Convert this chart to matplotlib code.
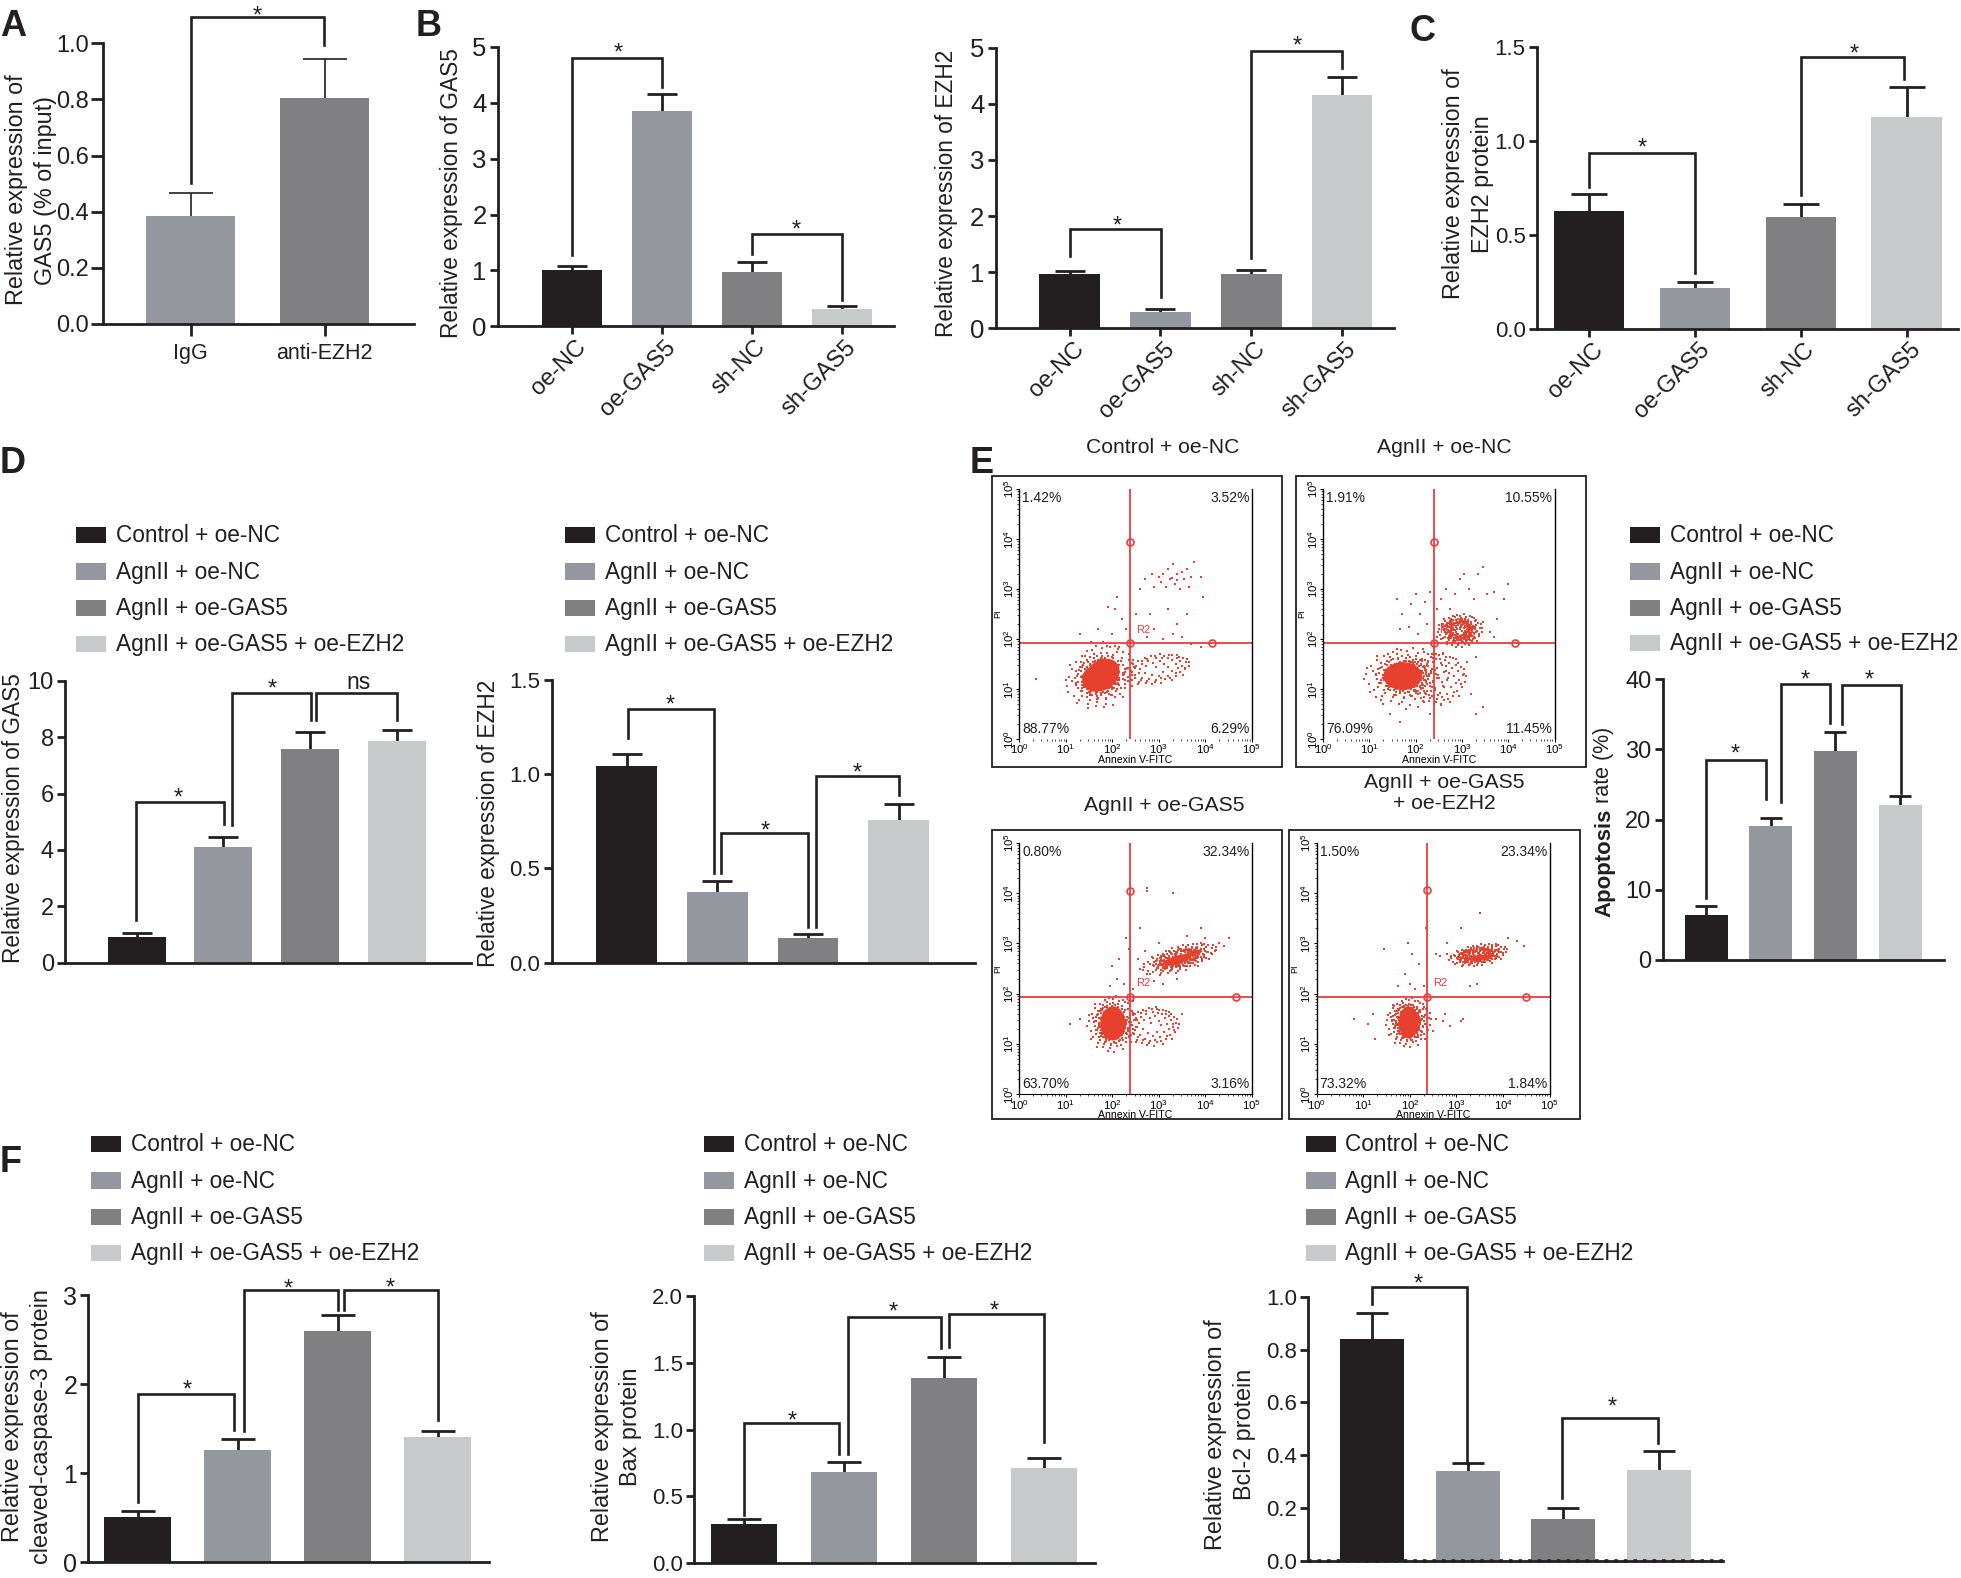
import matplotlib
matplotlib.use("Agg")
import matplotlib.pyplot as plt
import numpy as np
from matplotlib.patches import Ellipse, Rectangle
from matplotlib.transforms import ScaledTranslation

plt.rcParams['font.family'] = ['Liberation Sans', 'DejaVu Sans']
plt.rcParams['mathtext.fontset'] = 'custom'
plt.rcParams['mathtext.rm'] = 'Liberation Sans'

# layout numbers are in the 1568 wide preview of the figure
W = 1568.0
H = 1578 * W / 1961
BLACK, GRAY, DARK, LIGHT = '#231f20', '#95979e', '#808082', '#c8c9cb'
RED = '#e8402f'
LINE_RED = '#ee3b3b'
LW = 2.0
COLORS = [BLACK, GRAY, DARK, LIGHT]

groups_bc = ['oe-NC', 'oe-GAS5', 'sh-NC', 'sh-GAS5']
groups_a = ['IgG', 'anti-EZH2']
legend_names = ['Control + oe-NC', 'AgnII + oe-NC', 'AgnII + oe-GAS5', 'AgnII + oe-GAS5 + oe-EZH2']

a_vals = [0.385, 0.805]
a_tops = [0.465, 0.945]
b1_vals = [1.0, 3.85, 0.98, 0.31]
b1_tops = [1.08, 4.15, 1.15, 0.36]
b2_vals = [0.967, 0.285, 0.96, 4.15]
b2_tops = [1.03, 0.338, 1.04, 4.47]
c_vals = [0.629, 0.216, 0.595, 1.125]
c_tops = [0.717, 0.251, 0.664, 1.288]
d1_vals = [0.92, 4.11, 7.58, 7.86]
d1_tops = [1.06, 4.47, 8.17, 8.25]
d2_vals = [1.044, 0.375, 0.129, 0.755]
d2_tops = [1.106, 0.433, 0.15, 0.84]
e_vals = [6.4, 19.1, 29.7, 22.0]
e_tops = [7.69, 20.2, 32.5, 23.3]
f1_vals = [0.512, 1.257, 2.60, 1.406]
f1_tops = [0.576, 1.39, 2.78, 1.478]
f2_vals = [0.292, 0.681, 1.39, 0.711]
f2_tops = [0.329, 0.761, 1.544, 0.791]
f3_vals = [0.84, 0.34, 0.16, 0.345]
f3_tops = [0.94, 0.37, 0.20, 0.415]

# flow cytometry quadrants: upper left, upper right, lower left, lower right
e_titles = ['Control + oe-NC', 'AgnII + oe-NC', 'AgnII + oe-GAS5', 'AgnII + oe-GAS5\n+ oe-EZH2']
p1_pct = ['1.42%', '3.52%', '88.77%', '6.29%']
p2_pct = ['1.91%', '10.55%', '76.09%', '11.45%']
p3_pct = ['0.80%', '32.34%', '63.70%', '3.16%']
p4_pct = ['1.50%', '23.34%', '73.32%', '1.84%']

# solid part of the clouds, read by eye: x, y, half width, half height, angle (log10 units)
p1_core = [(1.78, 1.28, 0.40, 0.30, 30), (1.6, 1.2, 0.25, 0.25, 0)]
p2_core = [(1.72, 1.26, 0.42, 0.28, 0)]
p3_core = [(2.01, 1.41, 0.27, 0.34, 0), (3.4, 2.68, 0.32, 0.08, 14), (3.75, 2.82, 0.17, 0.05, 14)]
p4_core = [(1.97, 1.43, 0.22, 0.32, 0), (3.45, 2.72, 0.18, 0.05, 8)]

# outline of the loose fringes: x, y, half width, half height, angle, dense or not
p1_fringe = [(1.75, 1.25, 0.8, 0.65, 20, True), (2.95, 1.4, 0.75, 0.3, 8, False)]
p2_fringe = [(1.8, 1.25, 0.95, 0.6, 0, True), (2.5, 1.2, 0.6, 0.55, 0, False), (2.96, 2.17, 0.5, 0.35, 0, True)]
p3_fringe = [(2.0, 1.4, 0.55, 0.58, 0, True), (3.45, 2.7, 0.85, 0.27, 14, True), (2.85, 1.35, 0.6, 0.4, 0, False)]
p4_fringe = [(1.97, 1.43, 0.5, 0.52, 0, True), (3.47, 2.77, 0.65, 0.22, 8, True)]

# hand typed stipple for those fringes. The individual events of the cytometry
# plots can't be read one by one, so this is a texture and not measured data.
stipple = [(-0.92, 0.1), (-0.85, -0.25), (-0.8, 0.35), (-0.74, -0.45), (-0.7, 0.05), (-0.66, 0.55), (-0.62, -0.2),
           (-0.6, 0.3), (-0.55, -0.65), (-0.52, -0.05), (-0.5, 0.7), (-0.46, 0.18), (-0.43, -0.42), (-0.4, 0.48),
           (-0.36, -0.8), (-0.33, -0.15), (-0.3, 0.82), (-0.28, 0.3), (-0.24, -0.6), (-0.2, 0.62), (-0.18, -0.92),
           (-0.15, -0.33), (-0.12, 0.9), (-0.08, 0.42), (-0.05, -0.72), (-0.02, 0.15), (0.03, 0.72), (0.05, -0.5),
           (0.08, -0.95), (0.12, 0.5), (0.15, 0.95), (0.17, -0.28), (0.2, -0.75), (0.24, 0.28), (0.27, 0.8),
           (0.3, -0.55), (0.33, 0.05), (0.36, 0.6), (0.4, -0.85), (0.43, -0.3), (0.46, 0.42), (0.5, 0.75),
           (0.52, -0.62), (0.56, 0.12), (0.6, -0.15), (0.63, 0.52), (0.66, -0.45), (0.7, 0.3), (0.74, -0.05),
           (0.78, 0.45), (0.82, -0.3), (0.86, 0.15), (0.93, -0.1), (-0.97, -0.08), (-0.9, 0.3), (-0.82, -0.5),
           (-0.68, 0.68), (-0.58, -0.78), (0.62, 0.72), (0.72, -0.62), (0.9, 0.35), (0.96, 0.12), (-0.76, 0.2),
           (-0.64, -0.36), (-0.57, 0.44), (-0.48, -0.55), (-0.38, 0.66), (-0.31, -0.68), (-0.22, 0.76), (-0.1, -0.84),
           (0.01, 0.86), (0.1, -0.66), (0.21, 0.68), (0.34, -0.72), (0.41, 0.82), (0.55, -0.48), (0.68, 0.6), (0.8, -0.18)]

# stray dots (log10 x, log10 y)
p1_dots = [(2.6, 3.0), (2.7, 3.2), (2.85, 3.3), (2.9, 3.05), (3.0, 3.25), (3.05, 3.15), (3.1, 3.3), (3.15, 3.05),
           (3.2, 3.4), (3.25, 3.2), (3.3, 3.5), (3.35, 3.1), (3.4, 3.3), (3.45, 3.0), (3.5, 3.35), (3.55, 3.2),
           (3.6, 3.4), (3.7, 3.25), (3.75, 3.55), (3.9, 3.25), (3.65, 3.05), (3.95, 2.85), (3.28, 3.22), (3.38, 3.18),
           (2.1, 2.85), (2.05, 2.6), (1.9, 2.65), (2.2, 2.4), (2.3, 2.2), (2.0, 2.1), (1.7, 2.2), (2.5, 2.5),
           (2.8, 2.5), (3.2, 2.6), (3.4, 2.3), (3.6, 2.5), (3.3, 2.1), (2.9, 2.2), (3.1, 2.0), (3.5, 2.05),
           (3.7, 1.9), (3.9, 1.85), (2.75, 2.05), (1.55, 1.95), (1.3, 2.1), (0.35, 1.2), (1.8, 1.95), (2.15, 1.85)]
p2_dots = [(1.6, 2.8), (1.7, 2.5), (1.9, 2.7), (2.0, 2.9), (2.1, 2.5), (2.2, 2.75), (2.3, 2.95), (2.45, 2.6),
           (2.55, 2.8), (2.65, 3.0), (2.75, 2.6), (2.85, 2.9), (2.95, 3.2), (3.05, 3.3), (3.15, 3.0), (3.25, 2.8),
           (3.35, 3.3), (3.45, 3.45), (3.55, 2.9), (3.7, 2.95), (3.9, 2.8), (4.0, 3.1), (1.65, 2.2), (1.85, 2.25),
           (2.05, 2.1), (2.25, 2.3), (2.45, 2.05), (2.6, 2.3), (3.45, 2.35), (3.6, 2.15), (3.7, 2.05), (3.75, 2.4),
           (1.15, 0.85), (1.3, 0.7), (1.45, 0.5), (1.65, 0.35), (1.8, 0.6), (2.05, 0.65), (2.3, 0.5), (2.55, 0.7),
           (3.05, 1.3), (3.2, 0.9), (3.3, 0.5), (3.45, 0.65), (3.1, 1.55), (3.3, 1.65), (2.6, 1.7), (2.35, 1.7),
           (2.15, 1.8), (1.4, 1.7), (1.6, 1.8)]
p3_dots = [(2.75, 4.1), (2.75, 4.05), (3.3, 4.0), (2.6, 3.3), (3.9, 3.3), (4.0, 3.1), (4.5, 3.1), (4.3, 3.0),
           (2.0, 2.55), (2.15, 2.7), (2.3, 3.1), (2.35, 2.9), (2.1, 2.3), (2.25, 2.2), (1.95, 2.15), (2.45, 2.1),
           (2.6, 2.5), (2.75, 2.4), (2.9, 2.25), (3.1, 2.2), (3.4, 2.3), (2.55, 2.7), (2.7, 2.85), (3.6, 3.15),
           (3.0, 3.0), (4.2, 2.85), (4.4, 2.95), (3.3, 1.4), (3.5, 1.6), (3.15, 1.6), (1.1, 1.4), (1.3, 1.5),
           (2.95, 1.7), (2.45, 1.85)]
p4_dots = [(3.5, 3.6), (3.1, 3.3), (2.8, 3.0), (1.45, 2.9), (1.95, 3.0), (2.05, 2.8), (2.2, 2.6), (1.9, 2.4),
           (2.0, 2.2), (1.75, 2.15), (2.1, 2.1), (2.3, 2.15), (2.35, 3.3), (2.55, 2.8), (2.65, 2.75), (2.8, 2.8),
           (3.3, 2.15), (3.45, 2.2), (4.3, 3.05), (4.1, 3.1), (4.45, 2.95), (2.55, 1.5), (2.7, 1.45), (2.85, 1.35),
           (3.1, 1.45), (3.15, 1.5), (2.5, 1.25), (2.75, 1.6), (0.8, 1.5), (1.1, 1.4), (1.2, 1.6), (1.25, 1.1),
           (2.35, 1.7), (1.65, 1.75)]

fig = plt.figure(figsize=(19.61, 15.78), dpi=100)
ov = fig.add_axes([0, 0, 1, 1], zorder=10)
ov.set_xlim(0, W)
ov.set_ylim(H, 0)
ov.axis('off')
ov.patch.set_alpha(0)


def bar_panel(spine, xend, ytop, ybot, first, step, width, ymax, yticks, vals, tops,
              colors=COLORS, labels=None, rot=0, yfmt='{:.1f}', err_lw=LW, ticksize=16, ticklen=6):
    ax = fig.add_axes([spine / W, 1 - ybot / H, (xend - spine) / W, (ybot - ytop) / H])
    x = np.arange(len(vals))
    errs = np.array(tops) - np.array(vals)
    cap = width * 1.2506 / 4 * 0.72
    ax.errorbar(x, vals, yerr=errs, fmt='none', ecolor=BLACK, elinewidth=err_lw, capsize=cap,
                capthick=err_lw, zorder=1)
    ax.bar(x, vals, width / step, color=colors, zorder=2)
    ax.set_xlim((spine - first) / step, (xend - first) / step)
    ax.set_ylim(0, ymax)
    ax.set_yticks(yticks)
    ax.set_yticklabels([yfmt.format(t) for t in yticks])
    for s in ['top', 'right']:
        ax.spines[s].set_visible(False)
    for s in ['left', 'bottom']:
        ax.spines[s].set_linewidth(LW)
        ax.spines[s].set_color(BLACK)
    ax.tick_params(axis='y', length=ticklen, width=LW, labelsize=ticksize, color=BLACK, labelcolor=BLACK, pad=2)
    if labels is None:
        ax.set_xticks([])
    else:
        ax.set_xticks(x)
        ax.tick_params(axis='x', length=ticklen, width=LW, color=BLACK, labelcolor=BLACK)
        if rot:
            ax.set_xticklabels(labels, rotation=rot, ha='right', va='top', rotation_mode='anchor', fontsize=17)
            ax.tick_params(axis='x', pad=1)
            shift = ScaledTranslation(0.03, 0, fig.dpi_scale_trans)
            for lab in ax.get_xticklabels():
                lab.set_transform(lab.get_transform() + shift)
        else:
            ax.set_xticklabels(labels, fontsize=15.5)
            ax.tick_params(axis='x', pad=5)
    ax.patch.set_alpha(0)
    return ax


def bracket(x0, y0, ytop, x1, y1, mark='*', mx=None, my=None):
    ov.plot([x0, x0, x1, x1], [y0, ytop, ytop, y1], color=BLACK, lw=1.9, solid_joinstyle='miter')
    if mark == '*':
        ov.text(mx, my + 11, '*', fontsize=17, ha='center', va='baseline', color=BLACK)
    else:
        ov.text(mx, my + 6, mark, fontsize=16.5, ha='center', va='baseline', color=BLACK)


def ylab(x, yc, text, size=16.8):
    ov.text(x + 2, yc, text, rotation=90, ha='center', va='center', fontsize=size, color=BLACK)


def legend(xs, ys):
    for name, col, y in zip(legend_names, COLORS, ys):
        ov.add_patch(Rectangle((xs, y - 6.5), 24, 13, color=col, lw=0))
        ov.text(xs + 31.5, y + 0.5, name, fontsize=16.3, ha='left', va='center', color=BLACK)


def fringe_dots(cloud):
    cx, cy, rx, ry, ang, dense = cloud
    off = np.array(stipple)
    ox, oy = off[:, 0], off[:, 1]
    if dense:
        # same table again, mirrored and pulled in, so the fringe gets denser inwards
        ox = np.concatenate([off[:, 0], -off[:, 0] * 0.72, off[:, 1] * 0.55])
        oy = np.concatenate([off[:, 1], off[:, 1] * 0.72, off[:, 0] * 0.55])
    a = np.radians(ang)
    xs = cx + rx * ox * np.cos(a) - ry * oy * np.sin(a)
    ys = cy + rx * ox * np.sin(a) + ry * oy * np.cos(a)
    return xs, ys


def flow_panel(frame, plot, cross, title_xy, title, pct, core, fringe, dots, axis_line):
    fx0, fy0, fx1, fy1 = frame
    ov.add_patch(Rectangle((fx0, fy0), fx1 - fx0, fy1 - fy0, fill=False, ec=BLACK, lw=1.3))
    ov.text(title_xy[0], title_xy[1], title, fontsize=15.2, ha='center', va='center', color=BLACK, linespacing=1.1)
    l, r, t, b = plot
    ax = fig.add_axes([l / W, 1 - b / H, (r - l) / W, (b - t) / H], zorder=5)
    ax.set_xlim(0, 5)
    ax.set_ylim(0, 5)
    ax.patch.set_alpha(0)
    for cx, cy, rx, ry, ang in core:
        ax.add_patch(Ellipse((cx, cy), 2 * rx, 2 * ry, angle=ang, fc=RED, ec='none'))
    for cloud in fringe:
        fxs, fys = fringe_dots(cloud)
        ax.scatter(fxs, fys, s=1.6, marker='s', color=RED, lw=0)
    px, py = zip(*dots)
    ax.scatter(px, py, s=1.6, marker='s', color=RED, lw=0)
    ax.axvline(cross[0], color=LINE_RED, lw=1.3)
    ax.axhline(cross[1], color=LINE_RED, lw=1.3)
    ax.plot([cross[0], cross[0], cross[2]], [cross[3], cross[1], cross[1]], 'o', ms=5, mfc='none', mec=LINE_RED, mew=1.2)
    ax.text(cross[0] + 0.12, cross[1] + 0.27, 'R2', color=LINE_RED, fontsize=8, va='center')
    ax.spines['top'].set_visible(False)
    ax.spines['left'].set_linewidth(1.0)
    ax.spines['right'].set_linewidth(1.0)
    ax.spines['bottom'].set_linewidth(0.8)
    ax.spines['bottom'].set_visible(axis_line)
    ax.set_xticks(range(6))
    ax.set_yticks(range(6))
    minor = [d + np.log10(m) for d in range(5) for m in range(2, 10)]
    ax.set_xticks(minor, minor=True)
    ax.set_yticks(minor, minor=True)
    decade = [f'$\\mathregular{{10^{d}}}$' for d in range(6)]
    ax.set_xticklabels(decade, fontsize=8.2)
    ax.set_yticklabels(decade, fontsize=8.2, rotation=90, va='center')
    ax.tick_params(length=2.5, width=0.7, pad=0)
    ax.tick_params(which='minor', length=1.5, width=0.5)
    ax.set_xlabel('Annexin V-FITC', fontsize=7.6, labelpad=-1)
    ax.set_ylabel('PI', fontsize=6.5, labelpad=0)
    ax.text(0.06, 4.82, pct[0], fontsize=10, va='center', ha='left', color=BLACK)
    ax.text(4.95, 4.82, pct[1], fontsize=10, va='center', ha='right', color=BLACK)
    ax.text(0.06, 0.21, pct[2], fontsize=10, va='center', ha='left', color=BLACK)
    ax.text(4.95, 0.21, pct[3], fontsize=10, va='center', ha='right', color=BLACK)


# --- A ---
bar_panel(82.5, 331, 34.6, 259, 152.5, 107, 71, 1.0, [0, 0.2, 0.4, 0.6, 0.8, 1.0], a_vals, a_tops,
          colors=[GRAY, DARK], labels=groups_a, err_lw=1.2, ticksize=17, ticklen=8.5)
ylab(11, 152, 'Relative expression of')
ylab(34, 152, 'GAS5 (% of input)')
bracket(152.8, 146.6, 13.3, 258.8, 36, mx=205.4, my=7)

# --- B ---
bar_panel(398, 715, 37.3, 261, 457, 72, 48, 5, range(6), b1_vals, b1_tops, labels=groups_bc, rot=45, yfmt='{:d}', ticksize=18.5)
ylab(359, 154, 'Relative expression of GAS5', size=16.3)
bracket(457, 204, 46.6, 529, 69.3, mx=494, my=37)
bracket(601, 203, 187, 673, 240, mx=637, my=178)

bar_panel(796, 1115, 38, 262.6, 855.3, 72.6, 48.5, 5, range(6), b2_vals, b2_tops, labels=groups_bc, rot=45, yfmt='{:d}', ticksize=18.5)
ylab(755, 155, 'Relative expression of EZH2', size=16.3)
bracket(855.3, 204.4, 182.8, 928, 237.8, mx=893.5, my=174.6)
bracket(1000.5, 206.6, 40.8, 1073.2, 54, mx=1037.5, my=30.7)

# --- C ---
bar_panel(1228.7, 1566, 37.3, 263, 1270.7, 84.6, 56.2, 1.5, [0, 0.5, 1.0, 1.5], c_vals, c_tops, labels=groups_bc, rot=45)
ylab(1160, 147, 'Relative expression of')
ylab(1183, 147, 'EZH2 protein')
bracket(1270.7, 149.8, 122.6, 1355.4, 218, mx=1313.5, my=112.8)
bracket(1439.8, 156, 45.3, 1522.5, 63.4, mx=1482.6, my=37.3)

# --- D ---
legend(61, [428, 457, 486, 515])
bar_panel(52, 377, 544.3, 769.8, 109.3, 69.3, 46.5, 10, range(0, 11, 2), d1_vals, d1_tops, yfmt='{:d}', ticksize=17)
ylab(9, 654, 'Relative expression of GAS5', size=16.3)
bracket(109, 736, 641, 179, 659, mx=142.6, my=632)
bracket(185.5, 660, 554.5, 248.7, 575.7, mx=218, my=545)
bracket(252.4, 576, 554.5, 317.7, 576, mark='ns', mx=287, my=545)

legend(452, [428, 457, 486, 515])
bar_panel(441, 780, 543.7, 769.8, 501, 72.55, 48.5, 1.5, [0, 0.5, 1.0, 1.5], d2_vals, d2_tops)
ylab(388.5, 658, 'Relative expression of EZH2', size=16.3)
bracket(502, 589.9, 566.7, 571, 698.3, mx=535.7, my=558.3)
bracket(576.8, 698.3, 666.3, 646.4, 741, mx=611.7, my=658.5)
bracket(652.5, 741, 620.2, 718.6, 635.7, mx=685.8, my=612.5)

# --- E ---
flow_panel((793, 381, 1025, 613), (815, 1001, 391, 591), (2.385, 1.92, 4.15, 3.95), (930, 358), e_titles[0], p1_pct, p1_core, p1_fringe, p1_dots, False)
flow_panel((1036, 381, 1268, 613), (1058, 1243, 391, 591), (2.385, 1.92, 4.15, 3.95), (1155, 358), e_titles[1], p2_pct, p2_core, p2_fringe, p2_dots, False)
flow_panel((793, 664, 1025, 895), (815, 1001, 674, 875), (2.39, 1.94, 4.65, 4.05), (931, 644), e_titles[2], p3_pct, p3_core, p3_fringe, p3_dots, True)
flow_panel((1031, 664, 1263, 895), (1053, 1239, 674, 875), (2.37, 1.94, 4.5, 4.07), (1155, 634), e_titles[3], p4_pct, p4_core, p4_fringe, p4_dots, True)

legend(1303.5, [428, 457, 486, 514])
bar_panel(1329.5, 1554.6, 543, 767.6, 1364.2, 51.7, 34.4, 40, range(0, 41, 10), e_vals, e_tops, yfmt='{:d}', ticksize=17)
ov.text(1283, 733, 'Apoptosis', rotation=90, ha='center', va='bottom', fontsize=16, weight='bold', color=BLACK)
ov.text(1282, 642, 'rate (%)', rotation=90, ha='center', va='bottom', fontsize=15.5, color=BLACK)
bracket(1364.2, 718.3, 607.7, 1412, 639, mx=1387.3, my=597)
bracket(1423.8, 641, 547.3, 1463.3, 578.4, mx=1443.8, my=538)
bracket(1473.2, 579, 547.8, 1519.8, 634.3, mx=1494.5, my=538)

# --- F ---
legend(73, [915, 944, 973, 1002])
bar_panel(70.6, 391, 1035.5, 1249.3, 110.3, 79.9, 53.5, 3, range(4), f1_vals, f1_tops, yfmt='{:d}', ticksize=18)
ylab(8, 1141, 'Relative expression of')
ylab(31, 1141, 'cleaved-caspase-3 protein')
bracket(110.3, 1201, 1114.7, 187.3, 1143.5, mx=149.8, my=1106)
bracket(195.4, 1144, 1031.5, 270.5, 1047.5, mx=230.6, my=1025)
bracket(275, 1047.5, 1031.5, 350, 1135.5, mx=311.9, my=1024)

legend(563, [915, 944, 973, 1002])
bar_panel(555, 875.8, 1036.3, 1250, 594.8, 80, 52.9, 2.0, [0, 0.5, 1.0, 1.5, 2.0], f2_vals, f2_tops)
ylab(480, 1141, 'Relative expression of')
ylab(502, 1141, 'Bax protein')
bracket(594.8, 1211.4, 1138, 670.9, 1162.7, mx=633.6, my=1130.7)
bracket(677.7, 1162.7, 1053.4, 752.3, 1077.6, mx=714, my=1043.5)
bracket(758.7, 1076.8, 1050.7, 834.8, 1152.8, mx=795.3, my=1042.8)

legend(1044, [915, 944, 973, 1002])
ax_f3 = bar_panel(1046, 1378, 1037, 1248, 1097, 76.5, 51, 1.0, [0, 0.2, 0.4, 0.6, 0.8, 1.0], f3_vals, f3_tops)
ax_f3.axhline(0, color=BLACK, ls=':', lw=2.6, clip_on=False, zorder=5)
ylab(970, 1147, 'Relative expression of')
ylab(993, 1147, 'Bcl-2 protein')
bracket(1097, 1043, 1029, 1173, 1169, mx=1134, my=1021)
bracket(1249, 1198, 1134, 1326, 1154, mx=1289, my=1119)

# panel letters
for letter, lx, ly in [('A', 0, 29), ('B', 332, 29), ('C', 1127, 33), ('D', 0, 378), ('E', 775, 378), ('F', 0, 937)]:
    ov.text(lx, ly, letter, fontsize=26, weight='bold', ha='left', va='baseline', color=BLACK)

fig.savefig('out.png', dpi=100)
